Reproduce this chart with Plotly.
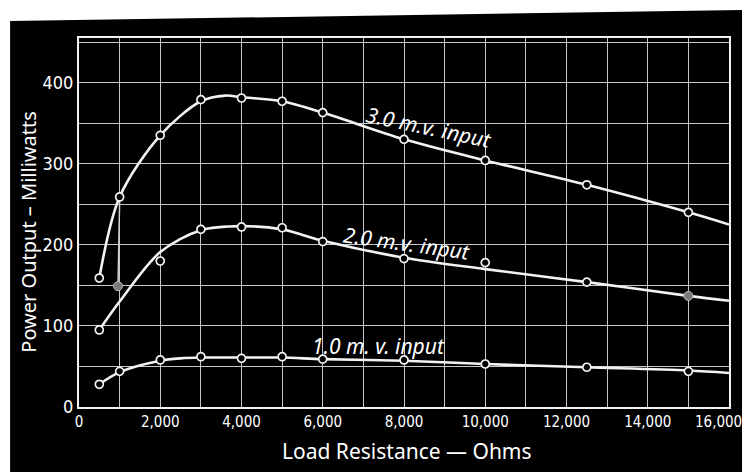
import plotly.graph_objects as go

# --- datos ---
x_puntos = [500, 1000, 2000, 3000, 4000, 5000, 6000, 8000, 10000, 12500, 15000]
p30_puntos = [159, 259, 335, 379, 381, 377, 363, 330, 304, 274, 240]
p20_puntos = [95, None, 180, 219, 222, 221, 204, 183, 178, 154, None]
p10_puntos = [28, 44, 58, 62, 60, 62, 59, 58, 53, 49, 44]

# curvas trazadas a mano (valores leidos sobre la linea)
x_c30 = [500, 1000, 2000, 3000, 3600, 4000, 5000, 6000, 8000, 10000, 12500, 15000, 16000]
y_c30 = [159, 259, 335, 377, 384, 382, 377, 363, 330, 304, 274, 240, 225]
x_c20 = [500, 1000, 2000, 3000, 4000, 5000, 6000, 8000, 10000, 12500, 15000, 16000]
y_c20 = [95, 130, 191, 218, 223, 219, 205, 184, 170, 154, 137, 131]
x_c10 = [500, 1000, 2000, 2500, 3000, 4000, 5000, 6000, 8000, 10000, 12500, 15000, 16000]
y_c10 = [28, 43, 57, 60, 61, 61, 61, 59, 57, 53, 49, 45, 42]

# puntos rellenos y marca suelta
x_rellenos = [960, 15000]
y_rellenos = [149, 137]
x_marca = [1000, 960]
y_marca = [254, 149]

x_ticks = [0, 2000, 4000, 6000, 8000, 10000, 12000, 14000, 16000]
x_tick_labels = ["0", "2,000", "4,000", "6,000", "8,000", "10,000", "12,000", "14,000", "16,000"]
y_ticks = [0, 100, 200, 300, 400]

etiquetas = ["3.0 m.v. input", "2.0 m.v. input", "1.0 m. v. input"]
etiq_x = [8600, 8050, 7370]
etiq_y = [345, 202, 75]
etiq_ang = [12, 8, 0]

BLANCO = "#f2f2f2"
REJILLA = "#c8c8c8"
fuente_ejes = "DejaVu Sans Condensed, sans-serif"
fuente_tit = "Noto Sans, sans-serif"

fig = go.Figure()

for xc, yc in [(x_c30, y_c30), (x_c20, y_c20), (x_c10, y_c10)]:
    fig.add_trace(go.Scatter(
        x=xc, y=yc, mode="lines",
        line=dict(color=BLANCO, width=2.6, shape="spline", smoothing=0.9),
        showlegend=False, hoverinfo="skip"
    ))

fig.add_trace(go.Scatter(
    x=x_marca, y=y_marca, mode="lines",
    line=dict(color="#d0d0d0", width=1.5),
    showlegend=False, hoverinfo="skip"
))

for yp in [p30_puntos, p20_puntos, p10_puntos]:
    fig.add_trace(go.Scatter(
        x=x_puntos, y=yp, mode="markers",
        marker=dict(size=8, color="black", line=dict(color=BLANCO, width=1.7)),
        showlegend=False
    ))

fig.add_trace(go.Scatter(
    x=x_rellenos, y=y_rellenos, mode="markers",
    marker=dict(size=9, color="#7a7a7a", line=dict(color="#bdbdbd", width=1)),
    showlegend=False
))

for texto, ex, ey, ang in zip(etiquetas, etiq_x, etiq_y, etiq_ang):
    fig.add_annotation(
        x=ex, y=ey, text=f"<i>{texto}</i>", showarrow=False, textangle=ang,
        font=dict(family="Noto Sans, DejaVu Sans, sans-serif", size=21, color="white")
    )

# titulos de ejes
fig.add_annotation(xref="paper", yref="paper", x=0.505, y=-0.12,
                   text="Load Resistance \u2014 Ohms", showarrow=False,
                   xanchor="center", yanchor="middle",
                   font=dict(family=fuente_tit, size=21, color="white"))
fig.add_annotation(xref="paper", yref="paper", x=-0.077, y=0.475,
                   text="Power Output \u2013 Milliwatts", showarrow=False, textangle=-90,
                   xanchor="center", yanchor="middle",
                   font=dict(family=fuente_tit, size=20, color="white"))

# la ultima marca del eje x va pegada al borde derecho
fig.add_annotation(xref="paper", yref="paper", x=1, y=-0.04,
                   text=x_tick_labels[-1], showarrow=False,
                   xanchor="right", yanchor="middle", xshift=15,
                   font=dict(family=fuente_ejes, size=15, color="white"))

# franja blanca de la pagina escaneada
fig.add_shape(type="path", xref="paper", yref="paper",
              path="M -0.3,1.3 L 1.3,1.3 L 1.3,1.078 L 1.032,1.076 L -0.106,1.046 "
                   "L -0.106,-0.4 L -0.3,-0.4 Z",
              fillcolor="white", line=dict(width=0), layer="above")

fig.update_xaxes(
    range=[0, 16000], tickvals=x_ticks, ticktext=x_tick_labels[:-1] + [""], tickmode="array",
    showgrid=True, gridcolor=REJILLA, gridwidth=1,
    minor=dict(showgrid=True, gridcolor=REJILLA, gridwidth=1, dtick=1000, tick0=0),
    showline=True, linecolor=BLANCO, linewidth=2, mirror=True, zeroline=False,
    ticks="", tickfont=dict(family=fuente_ejes, size=15, color="white")
)
fig.update_yaxes(
    range=[0, 455], tickvals=y_ticks,
    showgrid=True, gridcolor=REJILLA, gridwidth=1,
    minor=dict(showgrid=True, gridcolor=REJILLA, gridwidth=1, dtick=50, tick0=0),
    showline=True, linecolor=BLANCO, linewidth=2, mirror=True, zeroline=False,
    ticks="", tickfont=dict(family=fuente_ejes, size=18, color="white")
)

fig.update_layout(
    width=750, height=472,
    paper_bgcolor="black", plot_bgcolor="black",
    margin=dict(l=71, r=29, t=30, b=73, autoexpand=False),
    showlegend=False
)

fig.write_html("out.html")
